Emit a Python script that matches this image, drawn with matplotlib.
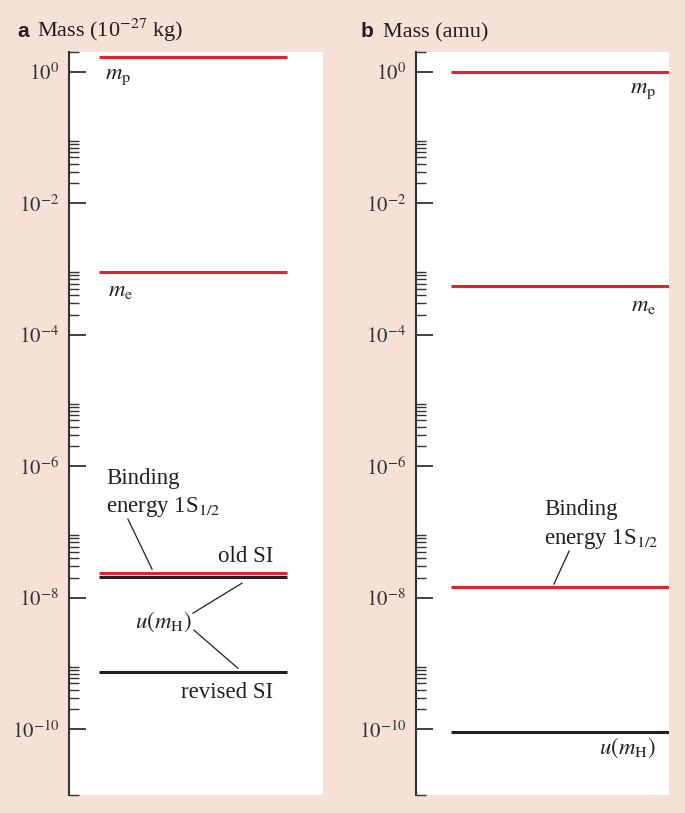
import matplotlib
matplotlib.use("Agg")
import matplotlib.pyplot as plt
from matplotlib.ticker import FixedLocator, NullFormatter

plt.rcParams['mathtext.fontset'] = 'stix'
plt.rcParams['font.family'] = ['Liberation Serif', 'DejaVu Serif']

# ---- data ----
a_names = ['m_p', 'm_e', 'binding', 'u_old', 'u_rev']
a_values = [1.6726, 9.109e-4, 2.40e-8, 2.04e-8, 7.4e-10]
a_colors = ['red', 'red', 'red', 'black', 'black']

b_names = ['m_p', 'm_e', 'binding', 'u']
b_values = [1.00728, 5.486e-4, 1.46e-8, 9.0e-11]
b_colors = ['red', 'red', 'red', 'black']

major_exps = [0, -2, -4, -6, -8, -10]
major_labels = [r'$10^{0}$', r'$10^{-2}$', r'$10^{-4}$', r'$10^{-6}$', r'$10^{-8}$', r'$10^{-10}$']
minor_decades = [-2, -4, -6, -8, -10]

BG = '#f6e1d7'
RED = '#e4222b'
BLK = '#231f20'
AX = '#333333'
COL = {'red': RED, 'black': BLK}

fig = plt.figure(figsize=(6.85, 8.13), dpi=100)
fig.patch.set_facecolor(BG)

bottom = 1 - 795 / 813
height = (795 - 52) / 813
axa = fig.add_axes([69 / 685, bottom, 254 / 685, height])
axb = fig.add_axes([416 / 685, bottom, 253 / 685, height])

minor_ticks = [k * 10.0 ** e for e in minor_decades for k in range(2, 10)] + [2.0, 1e-11]

for ax in (axa, axb):
    ax.set_facecolor('white')
    ax.set_yscale('log')
    ax.set_ylim(1e-11, 2.0)
    ax.set_xlim(0, 1)
    for s in ('top', 'right', 'bottom'):
        ax.spines[s].set_visible(False)
    ax.spines['left'].set_color(AX)
    ax.spines['left'].set_linewidth(1.5)
    ax.set_xticks([])
    ax.yaxis.set_major_locator(FixedLocator([10.0 ** e for e in major_exps]))
    ax.set_yticklabels(major_labels)
    ax.yaxis.set_minor_locator(FixedLocator(minor_ticks))
    ax.yaxis.set_minor_formatter(NullFormatter())
    ax.tick_params(axis='y', which='major', direction='in', length=12, width=1.3,
                   color=AX, labelsize=15, pad=7, labelcolor='#333333')
    ax.tick_params(axis='y', which='minor', direction='in', length=7, width=1.0, color=AX)

# panel a lines
for v, c in zip(a_values, a_colors):
    axa.hlines(v, 0.118, 0.858, color=COL[c], lw=2.2)
# panel b lines
for v, c in zip(b_values, b_colors):
    axb.hlines(v, 0.138, 1.0, color=COL[c], lw=2.2)

FS = 16.5
tc = '#231f20'
# panel a labels
axa.text(0.142, 10 ** -0.107, r'$m_\mathrm{p}$', fontsize=FS, color=tc, va='baseline', ha='left')
axa.text(0.154, 10 ** -3.41, r'$m_\mathrm{e}$', fontsize=FS, color=tc, va='baseline', ha='left')
axa.text(0.146, 10 ** -6.271, 'Binding', fontsize=FS, color=tc, va='baseline', ha='left')
axa.text(0.146, 10 ** -6.697, r'energy 1S$_{1/2}$', fontsize=FS, color=tc, va='baseline', ha='left')
axa.plot([0.232, 0.327], [10 ** -6.804, 10 ** -7.565], color=tc, lw=0.9)
axa.text(0.803, 10 ** -7.458, 'old SI', fontsize=FS, color=tc, va='baseline', ha='right')
axa.text(0.260, 10 ** -8.463, r'$u(m_\mathrm{H})$', fontsize=FS, color=tc, va='baseline', ha='left')
axa.plot([0.681, 0.488], [10 ** -7.778, 10 ** -8.234], color=tc, lw=0.9)
axa.plot([0.492, 0.665], [10 ** -8.493, 10 ** -9.072], color=tc, lw=0.9)
axa.text(0.803, 10 ** -9.528, 'revised SI', fontsize=FS, color=tc, va='baseline', ha='right')

# panel b labels
axb.text(0.949, 10 ** -0.32, r'$m_\mathrm{p}$', fontsize=FS, color=tc, va='baseline', ha='right')
axb.text(0.949, 10 ** -3.638, r'$m_\mathrm{e}$', fontsize=FS, color=tc, va='baseline', ha='right')
axb.text(0.506, 10 ** -6.743, 'Binding', fontsize=FS, color=tc, va='baseline', ha='left')
axb.text(0.506, 10 ** -7.184, r'energy 1S$_{1/2}$', fontsize=FS, color=tc, va='baseline', ha='left')
axb.plot([0.605, 0.545], [10 ** -7.291, 10 ** -7.793], color=tc, lw=0.9)
axb.text(0.949, 10 ** -10.38, r'$u(m_\mathrm{H})$', fontsize=FS, color=tc, va='baseline', ha='right')

# titles
ty = 1 - 37 / 813
fig.text(17 / 685, ty, 'a', fontsize=15, fontweight='bold', family=['Liberation Sans', 'DejaVu Sans'],
         color=tc, va='baseline', ha='left')
fig.text(37 / 685, ty, r'Mass (10$^{-27}$ kg)', fontsize=16, color=tc, va='baseline', ha='left')
fig.text(361 / 685, ty, 'b', fontsize=15, fontweight='bold', family=['Liberation Sans', 'DejaVu Sans'],
         color=tc, va='baseline', ha='left')
fig.text(383 / 685, ty, 'Mass (amu)', fontsize=16, color=tc, va='baseline', ha='left')

fig.savefig('out.png', dpi=100, facecolor=BG)
